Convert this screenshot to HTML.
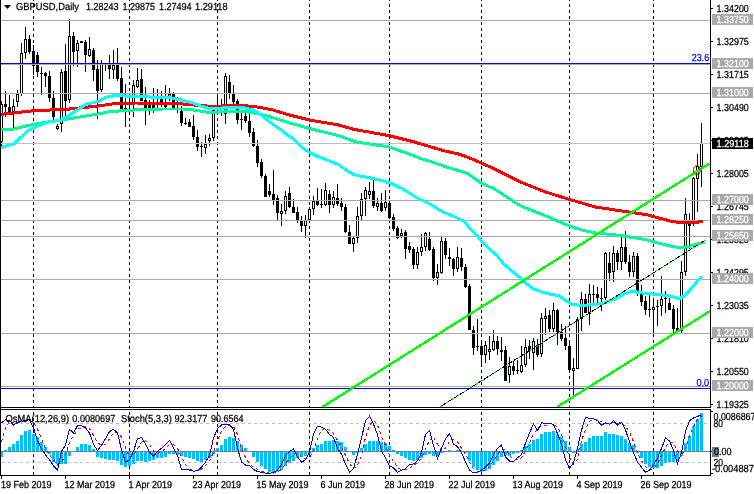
<!DOCTYPE html>
<html><head><meta charset="utf-8"><title>GBPUSD,Daily</title>
<style>
html,body{margin:0;padding:0;background:#fff;}
body{width:754px;height:494px;overflow:hidden;}
svg{display:block;}
text{font-family:"Liberation Sans", sans-serif;font-size:10.2px;text-rendering:geometricPrecision;}
.ce{shape-rendering:crispEdges;}
</style></head><body>
<svg width="754" height="494" viewBox="0 0 754 494">
<rect x="0" y="0" width="754" height="494" fill="#fff"/>

<g id="grid">
<line class="ce" x1="33.5" y1="0" x2="33.5" y2="407" stroke="#000" stroke-width="1" stroke-dasharray="3 3" stroke-dashoffset="2"/>
<line class="ce" x1="33.5" y1="410" x2="33.5" y2="475" stroke="#000" stroke-width="1" stroke-dasharray="3 3" stroke-dashoffset="4"/>
<line class="ce" x1="129.5" y1="0" x2="129.5" y2="407" stroke="#000" stroke-width="1" stroke-dasharray="3 3" stroke-dashoffset="2"/>
<line class="ce" x1="129.5" y1="410" x2="129.5" y2="475" stroke="#000" stroke-width="1" stroke-dasharray="3 3" stroke-dashoffset="4"/>
<line class="ce" x1="217.5" y1="0" x2="217.5" y2="407" stroke="#000" stroke-width="1" stroke-dasharray="3 3" stroke-dashoffset="2"/>
<line class="ce" x1="217.5" y1="410" x2="217.5" y2="475" stroke="#000" stroke-width="1" stroke-dasharray="3 3" stroke-dashoffset="4"/>
<line class="ce" x1="309.5" y1="0" x2="309.5" y2="407" stroke="#000" stroke-width="1" stroke-dasharray="3 3" stroke-dashoffset="2"/>
<line class="ce" x1="309.5" y1="410" x2="309.5" y2="475" stroke="#000" stroke-width="1" stroke-dasharray="3 3" stroke-dashoffset="4"/>
<line class="ce" x1="389.5" y1="0" x2="389.5" y2="407" stroke="#000" stroke-width="1" stroke-dasharray="3 3" stroke-dashoffset="2"/>
<line class="ce" x1="389.5" y1="410" x2="389.5" y2="475" stroke="#000" stroke-width="1" stroke-dasharray="3 3" stroke-dashoffset="4"/>
<line class="ce" x1="481.5" y1="0" x2="481.5" y2="407" stroke="#000" stroke-width="1" stroke-dasharray="3 3" stroke-dashoffset="2"/>
<line class="ce" x1="481.5" y1="410" x2="481.5" y2="475" stroke="#000" stroke-width="1" stroke-dasharray="3 3" stroke-dashoffset="4"/>
<line class="ce" x1="569.5" y1="0" x2="569.5" y2="407" stroke="#000" stroke-width="1" stroke-dasharray="3 3" stroke-dashoffset="2"/>
<line class="ce" x1="569.5" y1="410" x2="569.5" y2="475" stroke="#000" stroke-width="1" stroke-dasharray="3 3" stroke-dashoffset="4"/>
<line class="ce" x1="653.5" y1="0" x2="653.5" y2="407" stroke="#000" stroke-width="1" stroke-dasharray="3 3" stroke-dashoffset="2"/>
<line class="ce" x1="653.5" y1="410" x2="653.5" y2="475" stroke="#000" stroke-width="1" stroke-dasharray="3 3" stroke-dashoffset="4"/>
</g>
<g id="candles" class="ce">
<rect x="1" y="101" width="1" height="45" fill="#000"/>
<rect x="0" y="104" width="3" height="38" fill="#000"/>
<rect x="1" y="105" width="1" height="36" fill="#fff"/>
<rect x="5" y="91" width="1" height="26" fill="#000"/>
<rect x="4" y="104" width="3" height="3" fill="#000"/>
<rect x="9" y="95" width="1" height="18" fill="#000"/>
<rect x="8" y="107" width="3" height="5" fill="#000"/>
<rect x="13" y="99" width="1" height="29" fill="#000"/>
<rect x="12" y="106" width="3" height="6" fill="#000"/>
<rect x="13" y="107" width="1" height="4" fill="#fff"/>
<rect x="17" y="90" width="1" height="17" fill="#000"/>
<rect x="16" y="94" width="3" height="8" fill="#000"/>
<rect x="17" y="95" width="1" height="6" fill="#fff"/>
<rect x="21" y="43" width="1" height="53" fill="#000"/>
<rect x="20" y="53" width="3" height="41" fill="#000"/>
<rect x="21" y="54" width="1" height="39" fill="#fff"/>
<rect x="25" y="27" width="1" height="32" fill="#000"/>
<rect x="24" y="39" width="3" height="14" fill="#000"/>
<rect x="25" y="40" width="1" height="12" fill="#fff"/>
<rect x="29" y="35" width="1" height="19" fill="#000"/>
<rect x="28" y="39" width="3" height="13" fill="#000"/>
<rect x="33" y="45" width="1" height="30" fill="#000"/>
<rect x="32" y="51" width="3" height="15" fill="#000"/>
<rect x="37" y="52" width="1" height="25" fill="#000"/>
<rect x="36" y="55" width="3" height="17" fill="#000"/>
<rect x="41" y="67" width="1" height="28" fill="#000"/>
<rect x="40" y="73" width="3" height="1" fill="#000"/>
<rect x="45" y="72" width="1" height="15" fill="#000"/>
<rect x="44" y="73" width="3" height="3" fill="#000"/>
<rect x="49" y="71" width="1" height="31" fill="#000"/>
<rect x="48" y="76" width="3" height="22" fill="#000"/>
<rect x="53" y="91" width="1" height="29" fill="#000"/>
<rect x="52" y="98" width="3" height="19" fill="#000"/>
<rect x="57" y="124" width="1" height="6" fill="#000"/>
<rect x="56" y="126" width="3" height="3" fill="#000"/>
<rect x="57" y="127" width="1" height="1" fill="#fff"/>
<rect x="61" y="69" width="1" height="63" fill="#000"/>
<rect x="60" y="72" width="3" height="52" fill="#000"/>
<rect x="61" y="73" width="1" height="50" fill="#fff"/>
<rect x="65" y="44" width="1" height="77" fill="#000"/>
<rect x="64" y="71" width="3" height="30" fill="#000"/>
<rect x="69" y="19" width="1" height="84" fill="#000"/>
<rect x="68" y="36" width="3" height="64" fill="#000"/>
<rect x="69" y="37" width="1" height="62" fill="#fff"/>
<rect x="73" y="32" width="1" height="34" fill="#000"/>
<rect x="72" y="36" width="3" height="16" fill="#000"/>
<rect x="77" y="40" width="1" height="27" fill="#000"/>
<rect x="76" y="43" width="3" height="8" fill="#000"/>
<rect x="77" y="44" width="1" height="6" fill="#fff"/>
<rect x="81" y="41" width="1" height="2" fill="#000"/>
<rect x="80" y="41" width="3" height="2" fill="#000"/>
<rect x="85" y="40" width="1" height="32" fill="#000"/>
<rect x="84" y="42" width="3" height="13" fill="#000"/>
<rect x="89" y="37" width="1" height="20" fill="#000"/>
<rect x="88" y="49" width="3" height="7" fill="#000"/>
<rect x="89" y="50" width="1" height="5" fill="#fff"/>
<rect x="93" y="48" width="1" height="33" fill="#000"/>
<rect x="92" y="50" width="3" height="20" fill="#000"/>
<rect x="97" y="60" width="1" height="59" fill="#000"/>
<rect x="96" y="69" width="3" height="22" fill="#000"/>
<rect x="101" y="60" width="1" height="32" fill="#000"/>
<rect x="100" y="64" width="3" height="26" fill="#000"/>
<rect x="101" y="65" width="1" height="24" fill="#fff"/>
<rect x="105" y="65" width="1" height="6" fill="#000"/>
<rect x="109" y="55" width="1" height="24" fill="#000"/>
<rect x="108" y="65" width="3" height="4" fill="#000"/>
<rect x="113" y="50" width="1" height="29" fill="#000"/>
<rect x="112" y="65" width="3" height="5" fill="#000"/>
<rect x="113" y="66" width="1" height="3" fill="#fff"/>
<rect x="117" y="48" width="1" height="33" fill="#000"/>
<rect x="116" y="65" width="3" height="14" fill="#000"/>
<rect x="121" y="67" width="1" height="42" fill="#000"/>
<rect x="120" y="78" width="3" height="31" fill="#000"/>
<rect x="125" y="84" width="1" height="43" fill="#000"/>
<rect x="124" y="108" width="3" height="2" fill="#000"/>
<rect x="129" y="96" width="1" height="16" fill="#000"/>
<rect x="133" y="80" width="1" height="37" fill="#000"/>
<rect x="132" y="85" width="3" height="19" fill="#000"/>
<rect x="133" y="86" width="1" height="17" fill="#fff"/>
<rect x="137" y="68" width="1" height="20" fill="#000"/>
<rect x="136" y="80" width="3" height="7" fill="#000"/>
<rect x="137" y="81" width="1" height="5" fill="#fff"/>
<rect x="141" y="69" width="1" height="32" fill="#000"/>
<rect x="140" y="79" width="3" height="22" fill="#000"/>
<rect x="145" y="87" width="1" height="38" fill="#000"/>
<rect x="144" y="100" width="3" height="8" fill="#000"/>
<rect x="149" y="100" width="1" height="15" fill="#000"/>
<rect x="148" y="104" width="3" height="4" fill="#000"/>
<rect x="153" y="88" width="1" height="25" fill="#000"/>
<rect x="152" y="104" width="3" height="4" fill="#000"/>
<rect x="157" y="89" width="1" height="19" fill="#000"/>
<rect x="156" y="104" width="3" height="1" fill="#000"/>
<rect x="161" y="91" width="1" height="16" fill="#000"/>
<rect x="160" y="97" width="3" height="8" fill="#000"/>
<rect x="165" y="85" width="1" height="23" fill="#000"/>
<rect x="164" y="105" width="3" height="2" fill="#000"/>
<rect x="169" y="88" width="1" height="13" fill="#000"/>
<rect x="168" y="94" width="3" height="5" fill="#000"/>
<rect x="169" y="95" width="1" height="3" fill="#fff"/>
<rect x="173" y="92" width="1" height="17" fill="#000"/>
<rect x="172" y="93" width="3" height="15" fill="#000"/>
<rect x="177" y="97" width="1" height="16" fill="#000"/>
<rect x="176" y="104" width="3" height="1" fill="#000"/>
<rect x="181" y="106" width="1" height="20" fill="#000"/>
<rect x="180" y="111" width="3" height="12" fill="#000"/>
<rect x="185" y="118" width="1" height="7" fill="#000"/>
<rect x="184" y="123" width="3" height="1" fill="#000"/>
<rect x="189" y="119" width="1" height="8" fill="#000"/>
<rect x="188" y="122" width="3" height="5" fill="#000"/>
<rect x="193" y="115" width="1" height="25" fill="#000"/>
<rect x="192" y="126" width="3" height="11" fill="#000"/>
<rect x="197" y="130" width="1" height="21" fill="#000"/>
<rect x="196" y="137" width="3" height="10" fill="#000"/>
<rect x="201" y="142" width="1" height="15" fill="#000"/>
<rect x="200" y="146" width="3" height="1" fill="#000"/>
<rect x="205" y="135" width="1" height="19" fill="#000"/>
<rect x="204" y="144" width="3" height="4" fill="#000"/>
<rect x="205" y="145" width="1" height="2" fill="#fff"/>
<rect x="209" y="134" width="1" height="12" fill="#000"/>
<rect x="208" y="138" width="3" height="3" fill="#000"/>
<rect x="209" y="139" width="1" height="1" fill="#fff"/>
<rect x="213" y="108" width="1" height="33" fill="#000"/>
<rect x="212" y="110" width="3" height="28" fill="#000"/>
<rect x="213" y="111" width="1" height="26" fill="#fff"/>
<rect x="217" y="94" width="1" height="18" fill="#000"/>
<rect x="216" y="106" width="3" height="3" fill="#000"/>
<rect x="221" y="99" width="1" height="17" fill="#000"/>
<rect x="220" y="106" width="3" height="3" fill="#000"/>
<rect x="225" y="73" width="1" height="51" fill="#000"/>
<rect x="224" y="76" width="3" height="38" fill="#000"/>
<rect x="225" y="77" width="1" height="36" fill="#fff"/>
<rect x="229" y="75" width="1" height="24" fill="#000"/>
<rect x="228" y="82" width="3" height="12" fill="#000"/>
<rect x="233" y="85" width="1" height="19" fill="#000"/>
<rect x="232" y="94" width="3" height="8" fill="#000"/>
<rect x="237" y="99" width="1" height="25" fill="#000"/>
<rect x="236" y="101" width="3" height="19" fill="#000"/>
<rect x="241" y="113" width="1" height="17" fill="#000"/>
<rect x="240" y="119" width="3" height="1" fill="#000"/>
<rect x="245" y="113" width="1" height="10" fill="#000"/>
<rect x="244" y="116" width="3" height="5" fill="#000"/>
<rect x="249" y="113" width="1" height="24" fill="#000"/>
<rect x="248" y="121" width="3" height="12" fill="#000"/>
<rect x="253" y="128" width="1" height="19" fill="#000"/>
<rect x="252" y="132" width="3" height="14" fill="#000"/>
<rect x="257" y="140" width="1" height="27" fill="#000"/>
<rect x="256" y="146" width="3" height="17" fill="#000"/>
<rect x="261" y="159" width="1" height="19" fill="#000"/>
<rect x="260" y="162" width="3" height="14" fill="#000"/>
<rect x="265" y="174" width="1" height="23" fill="#000"/>
<rect x="264" y="176" width="3" height="21" fill="#000"/>
<rect x="269" y="184" width="1" height="13" fill="#000"/>
<rect x="268" y="191" width="3" height="4" fill="#000"/>
<rect x="273" y="170" width="1" height="35" fill="#000"/>
<rect x="272" y="194" width="3" height="6" fill="#000"/>
<rect x="277" y="195" width="1" height="25" fill="#000"/>
<rect x="276" y="198" width="3" height="15" fill="#000"/>
<rect x="281" y="204" width="1" height="22" fill="#000"/>
<rect x="280" y="211" width="3" height="3" fill="#000"/>
<rect x="281" y="212" width="1" height="1" fill="#fff"/>
<rect x="285" y="191" width="1" height="23" fill="#000"/>
<rect x="284" y="196" width="3" height="15" fill="#000"/>
<rect x="285" y="197" width="1" height="13" fill="#fff"/>
<rect x="289" y="187" width="1" height="21" fill="#000"/>
<rect x="288" y="193" width="3" height="14" fill="#000"/>
<rect x="293" y="199" width="1" height="14" fill="#000"/>
<rect x="292" y="207" width="3" height="6" fill="#000"/>
<rect x="297" y="207" width="1" height="16" fill="#000"/>
<rect x="296" y="212" width="3" height="8" fill="#000"/>
<rect x="301" y="216" width="1" height="16" fill="#000"/>
<rect x="300" y="221" width="3" height="5" fill="#000"/>
<rect x="305" y="215" width="1" height="23" fill="#000"/>
<rect x="304" y="220" width="3" height="6" fill="#000"/>
<rect x="305" y="221" width="1" height="4" fill="#fff"/>
<rect x="309" y="207" width="1" height="13" fill="#000"/>
<rect x="308" y="209" width="3" height="11" fill="#000"/>
<rect x="309" y="210" width="1" height="9" fill="#fff"/>
<rect x="313" y="196" width="1" height="19" fill="#000"/>
<rect x="312" y="201" width="3" height="8" fill="#000"/>
<rect x="313" y="202" width="1" height="6" fill="#fff"/>
<rect x="317" y="188" width="1" height="18" fill="#000"/>
<rect x="316" y="201" width="3" height="4" fill="#000"/>
<rect x="321" y="189" width="1" height="19" fill="#000"/>
<rect x="320" y="204" width="3" height="1" fill="#000"/>
<rect x="325" y="183" width="1" height="23" fill="#000"/>
<rect x="324" y="190" width="3" height="15" fill="#000"/>
<rect x="325" y="191" width="1" height="13" fill="#fff"/>
<rect x="329" y="190" width="1" height="23" fill="#000"/>
<rect x="328" y="194" width="3" height="11" fill="#000"/>
<rect x="333" y="191" width="1" height="17" fill="#000"/>
<rect x="332" y="197" width="3" height="8" fill="#000"/>
<rect x="333" y="198" width="1" height="6" fill="#fff"/>
<rect x="337" y="184" width="1" height="22" fill="#000"/>
<rect x="336" y="198" width="3" height="6" fill="#000"/>
<rect x="341" y="198" width="1" height="13" fill="#000"/>
<rect x="340" y="203" width="3" height="4" fill="#000"/>
<rect x="345" y="204" width="1" height="29" fill="#000"/>
<rect x="344" y="207" width="3" height="25" fill="#000"/>
<rect x="349" y="225" width="1" height="19" fill="#000"/>
<rect x="348" y="232" width="3" height="12" fill="#000"/>
<rect x="353" y="237" width="1" height="15" fill="#000"/>
<rect x="352" y="238" width="3" height="6" fill="#000"/>
<rect x="353" y="239" width="1" height="4" fill="#fff"/>
<rect x="357" y="207" width="1" height="36" fill="#000"/>
<rect x="356" y="216" width="3" height="22" fill="#000"/>
<rect x="357" y="217" width="1" height="20" fill="#fff"/>
<rect x="361" y="193" width="1" height="27" fill="#000"/>
<rect x="360" y="199" width="3" height="17" fill="#000"/>
<rect x="361" y="200" width="1" height="15" fill="#fff"/>
<rect x="365" y="187" width="1" height="29" fill="#000"/>
<rect x="364" y="190" width="3" height="9" fill="#000"/>
<rect x="365" y="191" width="1" height="7" fill="#fff"/>
<rect x="369" y="182" width="1" height="17" fill="#000"/>
<rect x="368" y="191" width="3" height="4" fill="#000"/>
<rect x="369" y="192" width="1" height="2" fill="#fff"/>
<rect x="373" y="180" width="1" height="28" fill="#000"/>
<rect x="372" y="191" width="3" height="15" fill="#000"/>
<rect x="377" y="198" width="1" height="13" fill="#000"/>
<rect x="376" y="203" width="3" height="4" fill="#000"/>
<rect x="377" y="204" width="1" height="2" fill="#fff"/>
<rect x="381" y="193" width="1" height="19" fill="#000"/>
<rect x="380" y="203" width="3" height="8" fill="#000"/>
<rect x="385" y="190" width="1" height="21" fill="#000"/>
<rect x="384" y="202" width="3" height="6" fill="#000"/>
<rect x="385" y="203" width="1" height="4" fill="#fff"/>
<rect x="389" y="200" width="1" height="19" fill="#000"/>
<rect x="388" y="203" width="3" height="15" fill="#000"/>
<rect x="393" y="214" width="1" height="17" fill="#000"/>
<rect x="392" y="217" width="3" height="12" fill="#000"/>
<rect x="397" y="226" width="1" height="13" fill="#000"/>
<rect x="396" y="228" width="3" height="10" fill="#000"/>
<rect x="401" y="229" width="1" height="9" fill="#000"/>
<rect x="400" y="233" width="3" height="3" fill="#000"/>
<rect x="401" y="234" width="1" height="1" fill="#fff"/>
<rect x="405" y="230" width="1" height="29" fill="#000"/>
<rect x="404" y="232" width="3" height="17" fill="#000"/>
<rect x="409" y="242" width="1" height="11" fill="#000"/>
<rect x="408" y="246" width="3" height="4" fill="#000"/>
<rect x="413" y="247" width="1" height="22" fill="#000"/>
<rect x="412" y="249" width="3" height="16" fill="#000"/>
<rect x="417" y="247" width="1" height="22" fill="#000"/>
<rect x="416" y="252" width="3" height="13" fill="#000"/>
<rect x="417" y="253" width="1" height="11" fill="#fff"/>
<rect x="421" y="234" width="1" height="22" fill="#000"/>
<rect x="420" y="247" width="3" height="5" fill="#000"/>
<rect x="421" y="248" width="1" height="3" fill="#fff"/>
<rect x="425" y="232" width="1" height="19" fill="#000"/>
<rect x="424" y="233" width="3" height="14" fill="#000"/>
<rect x="425" y="234" width="1" height="12" fill="#fff"/>
<rect x="429" y="232" width="1" height="19" fill="#000"/>
<rect x="428" y="239" width="3" height="11" fill="#000"/>
<rect x="433" y="247" width="1" height="34" fill="#000"/>
<rect x="432" y="249" width="3" height="29" fill="#000"/>
<rect x="437" y="264" width="1" height="21" fill="#000"/>
<rect x="436" y="272" width="3" height="6" fill="#000"/>
<rect x="437" y="273" width="1" height="4" fill="#fff"/>
<rect x="441" y="237" width="1" height="37" fill="#000"/>
<rect x="440" y="241" width="3" height="32" fill="#000"/>
<rect x="441" y="242" width="1" height="30" fill="#fff"/>
<rect x="445" y="238" width="1" height="21" fill="#000"/>
<rect x="444" y="241" width="3" height="14" fill="#000"/>
<rect x="449" y="248" width="1" height="18" fill="#000"/>
<rect x="448" y="257" width="3" height="2" fill="#000"/>
<rect x="453" y="258" width="1" height="18" fill="#000"/>
<rect x="452" y="259" width="3" height="10" fill="#000"/>
<rect x="457" y="247" width="1" height="25" fill="#000"/>
<rect x="456" y="257" width="3" height="12" fill="#000"/>
<rect x="457" y="258" width="1" height="10" fill="#fff"/>
<rect x="461" y="248" width="1" height="23" fill="#000"/>
<rect x="460" y="258" width="3" height="9" fill="#000"/>
<rect x="465" y="264" width="1" height="24" fill="#000"/>
<rect x="464" y="267" width="3" height="20" fill="#000"/>
<rect x="469" y="284" width="1" height="46" fill="#000"/>
<rect x="468" y="286" width="3" height="44" fill="#000"/>
<rect x="473" y="326" width="1" height="29" fill="#000"/>
<rect x="472" y="330" width="3" height="18" fill="#000"/>
<rect x="477" y="319" width="1" height="32" fill="#000"/>
<rect x="476" y="346" width="3" height="1" fill="#000"/>
<rect x="481" y="340" width="1" height="26" fill="#000"/>
<rect x="480" y="346" width="3" height="9" fill="#000"/>
<rect x="485" y="341" width="1" height="22" fill="#000"/>
<rect x="484" y="345" width="3" height="10" fill="#000"/>
<rect x="485" y="346" width="1" height="8" fill="#fff"/>
<rect x="489" y="336" width="1" height="24" fill="#000"/>
<rect x="488" y="349" width="3" height="3" fill="#000"/>
<rect x="489" y="350" width="1" height="1" fill="#fff"/>
<rect x="493" y="330" width="1" height="21" fill="#000"/>
<rect x="492" y="341" width="3" height="9" fill="#000"/>
<rect x="493" y="342" width="1" height="7" fill="#fff"/>
<rect x="497" y="336" width="1" height="19" fill="#000"/>
<rect x="496" y="341" width="3" height="8" fill="#000"/>
<rect x="501" y="337" width="1" height="24" fill="#000"/>
<rect x="500" y="350" width="3" height="2" fill="#000"/>
<rect x="505" y="346" width="1" height="35" fill="#000"/>
<rect x="504" y="350" width="3" height="31" fill="#000"/>
<rect x="509" y="357" width="1" height="26" fill="#000"/>
<rect x="508" y="366" width="3" height="9" fill="#000"/>
<rect x="509" y="367" width="1" height="7" fill="#fff"/>
<rect x="513" y="361" width="1" height="14" fill="#000"/>
<rect x="512" y="366" width="3" height="5" fill="#000"/>
<rect x="517" y="360" width="1" height="14" fill="#000"/>
<rect x="516" y="370" width="3" height="1" fill="#000"/>
<rect x="521" y="346" width="1" height="27" fill="#000"/>
<rect x="520" y="365" width="3" height="7" fill="#000"/>
<rect x="521" y="366" width="1" height="5" fill="#fff"/>
<rect x="525" y="339" width="1" height="28" fill="#000"/>
<rect x="524" y="347" width="3" height="18" fill="#000"/>
<rect x="525" y="348" width="1" height="16" fill="#fff"/>
<rect x="529" y="340" width="1" height="19" fill="#000"/>
<rect x="528" y="346" width="3" height="5" fill="#000"/>
<rect x="533" y="338" width="1" height="32" fill="#000"/>
<rect x="532" y="341" width="3" height="12" fill="#000"/>
<rect x="533" y="342" width="1" height="10" fill="#fff"/>
<rect x="537" y="339" width="1" height="18" fill="#000"/>
<rect x="536" y="345" width="3" height="10" fill="#000"/>
<rect x="541" y="313" width="1" height="44" fill="#000"/>
<rect x="540" y="318" width="3" height="36" fill="#000"/>
<rect x="541" y="319" width="1" height="34" fill="#fff"/>
<rect x="545" y="308" width="1" height="27" fill="#000"/>
<rect x="544" y="316" width="3" height="3" fill="#000"/>
<rect x="545" y="317" width="1" height="1" fill="#fff"/>
<rect x="549" y="310" width="1" height="22" fill="#000"/>
<rect x="548" y="315" width="3" height="14" fill="#000"/>
<rect x="553" y="303" width="1" height="29" fill="#000"/>
<rect x="552" y="310" width="3" height="19" fill="#000"/>
<rect x="553" y="311" width="1" height="17" fill="#fff"/>
<rect x="557" y="309" width="1" height="36" fill="#000"/>
<rect x="556" y="310" width="3" height="22" fill="#000"/>
<rect x="561" y="324" width="1" height="17" fill="#000"/>
<rect x="560" y="332" width="3" height="7" fill="#000"/>
<rect x="565" y="326" width="1" height="24" fill="#000"/>
<rect x="564" y="338" width="3" height="8" fill="#000"/>
<rect x="569" y="343" width="1" height="29" fill="#000"/>
<rect x="568" y="346" width="3" height="24" fill="#000"/>
<rect x="573" y="358" width="1" height="38" fill="#000"/>
<rect x="572" y="368" width="3" height="3" fill="#000"/>
<rect x="573" y="369" width="1" height="1" fill="#fff"/>
<rect x="577" y="317" width="1" height="52" fill="#000"/>
<rect x="576" y="319" width="3" height="50" fill="#000"/>
<rect x="577" y="320" width="1" height="48" fill="#fff"/>
<rect x="581" y="292" width="1" height="39" fill="#000"/>
<rect x="580" y="299" width="3" height="20" fill="#000"/>
<rect x="581" y="300" width="1" height="18" fill="#fff"/>
<rect x="585" y="294" width="1" height="19" fill="#000"/>
<rect x="584" y="299" width="3" height="14" fill="#000"/>
<rect x="589" y="284" width="1" height="41" fill="#000"/>
<rect x="588" y="294" width="3" height="20" fill="#000"/>
<rect x="589" y="295" width="1" height="18" fill="#fff"/>
<rect x="593" y="285" width="1" height="18" fill="#000"/>
<rect x="592" y="294" width="3" height="1" fill="#000"/>
<rect x="597" y="287" width="1" height="16" fill="#000"/>
<rect x="596" y="294" width="3" height="4" fill="#000"/>
<rect x="601" y="288" width="1" height="23" fill="#000"/>
<rect x="600" y="298" width="3" height="1" fill="#000"/>
<rect x="605" y="252" width="1" height="48" fill="#000"/>
<rect x="604" y="253" width="3" height="45" fill="#000"/>
<rect x="605" y="254" width="1" height="43" fill="#fff"/>
<rect x="609" y="252" width="1" height="29" fill="#000"/>
<rect x="608" y="263" width="3" height="10" fill="#000"/>
<rect x="613" y="246" width="1" height="36" fill="#000"/>
<rect x="612" y="253" width="3" height="19" fill="#000"/>
<rect x="613" y="254" width="1" height="17" fill="#fff"/>
<rect x="617" y="250" width="1" height="20" fill="#000"/>
<rect x="616" y="253" width="3" height="9" fill="#000"/>
<rect x="621" y="237" width="1" height="33" fill="#000"/>
<rect x="620" y="247" width="3" height="15" fill="#000"/>
<rect x="621" y="248" width="1" height="13" fill="#fff"/>
<rect x="625" y="231" width="1" height="33" fill="#000"/>
<rect x="624" y="247" width="3" height="15" fill="#000"/>
<rect x="629" y="255" width="1" height="22" fill="#000"/>
<rect x="628" y="262" width="3" height="10" fill="#000"/>
<rect x="633" y="252" width="1" height="25" fill="#000"/>
<rect x="632" y="256" width="3" height="16" fill="#000"/>
<rect x="633" y="257" width="1" height="14" fill="#fff"/>
<rect x="637" y="253" width="1" height="43" fill="#000"/>
<rect x="636" y="256" width="3" height="38" fill="#000"/>
<rect x="641" y="285" width="1" height="21" fill="#000"/>
<rect x="640" y="294" width="3" height="8" fill="#000"/>
<rect x="645" y="296" width="1" height="19" fill="#000"/>
<rect x="644" y="301" width="3" height="9" fill="#000"/>
<rect x="649" y="295" width="1" height="22" fill="#000"/>
<rect x="648" y="309" width="3" height="1" fill="#000"/>
<rect x="653" y="300" width="1" height="34" fill="#000"/>
<rect x="652" y="307" width="3" height="3" fill="#000"/>
<rect x="653" y="308" width="1" height="1" fill="#fff"/>
<rect x="657" y="300" width="1" height="26" fill="#000"/>
<rect x="656" y="306" width="3" height="1" fill="#000"/>
<rect x="661" y="276" width="1" height="40" fill="#000"/>
<rect x="660" y="299" width="3" height="7" fill="#000"/>
<rect x="661" y="300" width="1" height="5" fill="#fff"/>
<rect x="665" y="291" width="1" height="22" fill="#000"/>
<rect x="664" y="298" width="3" height="1" fill="#000"/>
<rect x="669" y="297" width="1" height="13" fill="#000"/>
<rect x="668" y="303" width="3" height="7" fill="#000"/>
<rect x="673" y="305" width="1" height="28" fill="#000"/>
<rect x="672" y="309" width="3" height="20" fill="#000"/>
<rect x="677" y="308" width="1" height="25" fill="#000"/>
<rect x="676" y="328" width="3" height="3" fill="#000"/>
<rect x="681" y="261" width="1" height="72" fill="#000"/>
<rect x="680" y="272" width="3" height="59" fill="#000"/>
<rect x="681" y="273" width="1" height="57" fill="#fff"/>
<rect x="685" y="198" width="1" height="78" fill="#000"/>
<rect x="684" y="214" width="3" height="58" fill="#000"/>
<rect x="685" y="215" width="1" height="56" fill="#fff"/>
<rect x="689" y="213" width="1" height="36" fill="#000"/>
<rect x="688" y="224" width="3" height="2" fill="#000"/>
<rect x="693" y="177" width="1" height="49" fill="#000"/>
<rect x="692" y="178" width="3" height="46" fill="#000"/>
<rect x="693" y="179" width="1" height="44" fill="#fff"/>
<rect x="697" y="154" width="1" height="58" fill="#000"/>
<rect x="696" y="166" width="3" height="13" fill="#000"/>
<rect x="697" y="167" width="1" height="11" fill="#fff"/>
<rect x="701" y="123" width="1" height="64" fill="#000"/>
<rect x="700" y="143" width="3" height="24" fill="#000"/>
<rect x="701" y="144" width="1" height="22" fill="#fff"/>
</g>
<g id="levels">
<rect class="ce" x="1" y="20" width="709" height="1" fill="#a9a9a9"/>
<rect class="ce" x="1" y="64" width="709" height="1" fill="#a9a9a9"/>
<rect class="ce" x="1" y="93" width="709" height="1" fill="#a9a9a9"/>
<rect class="ce" x="1" y="200" width="709" height="1" fill="#a9a9a9"/>
<rect class="ce" x="1" y="220" width="709" height="1" fill="#a9a9a9"/>
<rect class="ce" x="1" y="236" width="709" height="1" fill="#a9a9a9"/>
<rect class="ce" x="1" y="279" width="709" height="1" fill="#a9a9a9"/>
<rect class="ce" x="1" y="333" width="709" height="1" fill="#a9a9a9"/>
<rect class="ce" x="1" y="386" width="709" height="1" fill="#a9a9a9"/>
<rect class="ce" x="1" y="143" width="709" height="1" fill="#c0c0c0"/>
<rect class="ce" x="1" y="63" width="709" height="1" fill="#0000ff"/>
<rect class="ce" x="1" y="388" width="709" height="1" fill="#0000ff"/>
</g>
<g id="ma">
<polyline class="ce" points="0.0,129.4 13.4,129.1 33.4,124.4 66.8,119.1 100.0,113.7 109.4,111.7 129.4,110.3 142.8,109.4 162.8,109.0 183.0,109.0 196.0,110.3 208.0,112.4 225.4,111.8 245.5,111.5 258.8,113.8 272.2,117.5 290.0,123.1 309.4,128.5 338.4,135.6 356.0,141.9 388.8,146.9 414.0,155.7 420.0,158.4 433.4,162.4 446.7,167.1 460.1,171.1 468.0,173.7 473.5,177.8 481.5,183.1 493.5,188.5 500.2,192.5 505.6,196.3 520.4,205.8 545.6,215.9 569.5,226.0 583.4,230.5 596.0,233.0 621.2,235.6 646.4,239.8 660.0,243.6 664.0,244.3 672.0,246.4 680.0,247.7 688.0,246.7 696.0,244.3 704.5,242.0" fill="none" stroke="#00fa9a" stroke-width="3" stroke-linejoin="round"/>
<polyline class="ce" points="0.0,114.4 33.4,110.7 66.8,109.3 100.0,105.8 116.0,103.4 136.0,103.0 156.0,103.4 176.0,103.7 190.0,104.3 196.0,105.3 208.0,106.1 221.0,106.1 225.4,105.3 243.0,105.5 256.0,106.8 272.0,109.7 288.0,114.6 309.4,120.0 338.4,125.0 353.5,129.3 388.8,135.6 414.0,141.9 433.4,147.7 446.7,151.4 460.1,154.4 470.8,158.4 481.5,163.1 493.5,168.4 506.9,175.1 520.0,181.8 545.6,192.0 569.5,199.5 596.0,207.1 621.2,210.9 646.4,214.6 660.0,218.4 664.0,219.3 672.0,221.5 680.0,222.6 696.0,222.3 703.0,221.5" fill="none" stroke="#ff0000" stroke-width="3" stroke-linejoin="round"/>
<polyline class="ce" points="0.0,147.7 14.0,143.9 21.0,137.1 28.0,130.7 35.5,127.2 42.5,124.1 49.6,121.8 56.0,121.0 60.0,120.8 73.5,112.4 86.9,103.7 98.0,101.7 106.7,97.0 116.0,95.4 129.4,96.3 142.8,96.7 156.0,97.3 169.5,97.7 183.0,100.3 194.0,103.3 200.0,105.7 208.0,108.0 218.7,108.8 225.4,107.1 242.8,107.5 252.0,109.7 258.8,113.1 266.9,119.8 274.9,125.8 282.9,131.1 288.0,135.6 292.0,137.7 303.0,148.2 313.0,154.5 338.4,164.6 346.7,170.3 353.4,174.3 361.4,176.3 372.0,178.3 385.5,181.7 392.0,183.7 401.5,188.3 409.5,193.0 417.6,198.4 425.6,201.7 432.0,205.1 439.0,209.9 464.4,221.3 468.0,226.3 477.5,236.3 484.0,243.7 497.5,256.3 504.0,264.3 511.0,270.3 517.6,275.8 524.0,280.8 526.0,283.3 533.5,289.0 543.0,292.3 548.0,293.7 558.7,295.7 565.4,300.3 572.0,304.3 581.4,305.4 594.8,304.6 604.0,303.0 614.8,299.0 624.3,293.9 632.4,291.2 635.6,291.2 638.0,292.7 648.6,293.5 653.4,294.3 666.7,295.3 673.4,297.0 678.8,298.8 684.0,296.3 690.8,289.0 696.0,283.0 702.0,276.3" fill="none" stroke="#00ffff" stroke-width="3" stroke-linejoin="round"/>
</g>
<g id="channel">
<line class="ce" x1="322.4" y1="407.0" x2="709.3" y2="163.6" stroke="#00ff00" stroke-width="2.4" />
<line class="ce" x1="557.1" y1="407.0" x2="710.0" y2="311.1" stroke="#00ff00" stroke-width="2.4" />
<line class="ce" x1="439.8" y1="407.0" x2="706.0" y2="239.8" stroke="#000" stroke-width="1" />
<line class="ce" x1="439.8" y1="407.0" x2="710.0" y2="237.3" stroke="#00ff00" stroke-width="1" stroke-dasharray="2.5 4.6"/>
</g>
<ellipse cx="696.8" cy="170.3" rx="3.3" ry="4.6" fill="none" stroke="#ff0000" stroke-width="1"/>
<g id="sub" class="ce">
<line x1="2" y1="423.5" x2="710" y2="423.5" stroke="#c0c0c0" stroke-width="1" stroke-dasharray="3 3"/>
<line x1="2" y1="462.5" x2="710" y2="462.5" stroke="#c0c0c0" stroke-width="1" stroke-dasharray="3 3"/>
<rect x="0" y="452" width="3" height="5" fill="#00bfff"/>
<rect x="4" y="450" width="3" height="1" fill="#00bfff"/>
<rect x="8" y="447" width="3" height="4" fill="#00bfff"/>
<rect x="12" y="444" width="3" height="7" fill="#00bfff"/>
<rect x="16" y="441" width="3" height="10" fill="#00bfff"/>
<rect x="20" y="435" width="3" height="16" fill="#00bfff"/>
<rect x="24" y="431" width="3" height="20" fill="#00bfff"/>
<rect x="28" y="430" width="3" height="21" fill="#00bfff"/>
<rect x="32" y="434" width="3" height="17" fill="#00bfff"/>
<rect x="36" y="437" width="3" height="14" fill="#00bfff"/>
<rect x="40" y="442" width="3" height="9" fill="#00bfff"/>
<rect x="44" y="447" width="3" height="4" fill="#00bfff"/>
<rect x="48" y="452" width="3" height="2" fill="#00bfff"/>
<rect x="52" y="452" width="3" height="10" fill="#00bfff"/>
<rect x="56" y="452" width="3" height="12" fill="#00bfff"/>
<rect x="60" y="452" width="3" height="12" fill="#00bfff"/>
<rect x="64" y="452" width="3" height="12" fill="#00bfff"/>
<rect x="68" y="452" width="3" height="4" fill="#00bfff"/>
<rect x="76" y="447" width="3" height="4" fill="#00bfff"/>
<rect x="80" y="444" width="3" height="7" fill="#00bfff"/>
<rect x="84" y="444" width="3" height="7" fill="#00bfff"/>
<rect x="88" y="445" width="3" height="6" fill="#00bfff"/>
<rect x="92" y="449" width="3" height="2" fill="#00bfff"/>
<rect x="96" y="452" width="3" height="5" fill="#00bfff"/>
<rect x="100" y="452" width="3" height="6" fill="#00bfff"/>
<rect x="104" y="452" width="3" height="7" fill="#00bfff"/>
<rect x="108" y="452" width="3" height="8" fill="#00bfff"/>
<rect x="112" y="452" width="3" height="8" fill="#00bfff"/>
<rect x="116" y="452" width="3" height="9" fill="#00bfff"/>
<rect x="120" y="452" width="3" height="13" fill="#00bfff"/>
<rect x="124" y="452" width="3" height="15" fill="#00bfff"/>
<rect x="128" y="452" width="3" height="14" fill="#00bfff"/>
<rect x="132" y="452" width="3" height="12" fill="#00bfff"/>
<rect x="136" y="452" width="3" height="9" fill="#00bfff"/>
<rect x="140" y="452" width="3" height="9" fill="#00bfff"/>
<rect x="144" y="452" width="3" height="10" fill="#00bfff"/>
<rect x="148" y="452" width="3" height="9" fill="#00bfff"/>
<rect x="152" y="452" width="3" height="8" fill="#00bfff"/>
<rect x="156" y="452" width="3" height="6" fill="#00bfff"/>
<rect x="160" y="452" width="3" height="6" fill="#00bfff"/>
<rect x="164" y="452" width="3" height="5" fill="#00bfff"/>
<rect x="168" y="452" width="3" height="2" fill="#00bfff"/>
<rect x="172" y="452" width="3" height="2" fill="#00bfff"/>
<rect x="176" y="452" width="3" height="3" fill="#00bfff"/>
<rect x="180" y="452" width="3" height="4" fill="#00bfff"/>
<rect x="184" y="452" width="3" height="5" fill="#00bfff"/>
<rect x="188" y="452" width="3" height="6" fill="#00bfff"/>
<rect x="192" y="452" width="3" height="7" fill="#00bfff"/>
<rect x="196" y="452" width="3" height="9" fill="#00bfff"/>
<rect x="200" y="452" width="3" height="10" fill="#00bfff"/>
<rect x="204" y="452" width="3" height="8" fill="#00bfff"/>
<rect x="208" y="452" width="3" height="6" fill="#00bfff"/>
<rect x="212" y="452" width="3" height="2" fill="#00bfff"/>
<rect x="216" y="448" width="3" height="3" fill="#00bfff"/>
<rect x="220" y="445" width="3" height="6" fill="#00bfff"/>
<rect x="224" y="439" width="3" height="12" fill="#00bfff"/>
<rect x="228" y="437" width="3" height="14" fill="#00bfff"/>
<rect x="232" y="438" width="3" height="13" fill="#00bfff"/>
<rect x="236" y="441" width="3" height="10" fill="#00bfff"/>
<rect x="240" y="445" width="3" height="6" fill="#00bfff"/>
<rect x="244" y="448" width="3" height="3" fill="#00bfff"/>
<rect x="252" y="452" width="3" height="5" fill="#00bfff"/>
<rect x="256" y="452" width="3" height="10" fill="#00bfff"/>
<rect x="260" y="452" width="3" height="14" fill="#00bfff"/>
<rect x="264" y="452" width="3" height="17" fill="#00bfff"/>
<rect x="268" y="452" width="3" height="20" fill="#00bfff"/>
<rect x="272" y="452" width="3" height="20" fill="#00bfff"/>
<rect x="276" y="452" width="3" height="20" fill="#00bfff"/>
<rect x="280" y="452" width="3" height="18" fill="#00bfff"/>
<rect x="284" y="452" width="3" height="14" fill="#00bfff"/>
<rect x="288" y="452" width="3" height="11" fill="#00bfff"/>
<rect x="292" y="452" width="3" height="9" fill="#00bfff"/>
<rect x="296" y="452" width="3" height="6" fill="#00bfff"/>
<rect x="300" y="452" width="3" height="5" fill="#00bfff"/>
<rect x="304" y="452" width="3" height="4" fill="#00bfff"/>
<rect x="308" y="452" width="3" height="2" fill="#00bfff"/>
<rect x="312" y="448" width="3" height="3" fill="#00bfff"/>
<rect x="316" y="445" width="3" height="6" fill="#00bfff"/>
<rect x="320" y="444" width="3" height="7" fill="#00bfff"/>
<rect x="324" y="441" width="3" height="10" fill="#00bfff"/>
<rect x="328" y="441" width="3" height="10" fill="#00bfff"/>
<rect x="332" y="440" width="3" height="11" fill="#00bfff"/>
<rect x="336" y="441" width="3" height="10" fill="#00bfff"/>
<rect x="340" y="442" width="3" height="9" fill="#00bfff"/>
<rect x="344" y="447" width="3" height="4" fill="#00bfff"/>
<rect x="352" y="452" width="3" height="3" fill="#00bfff"/>
<rect x="356" y="452" width="3" height="1" fill="#00bfff"/>
<rect x="360" y="448" width="3" height="3" fill="#00bfff"/>
<rect x="364" y="444" width="3" height="7" fill="#00bfff"/>
<rect x="368" y="441" width="3" height="10" fill="#00bfff"/>
<rect x="372" y="441" width="3" height="10" fill="#00bfff"/>
<rect x="376" y="441" width="3" height="10" fill="#00bfff"/>
<rect x="380" y="442" width="3" height="9" fill="#00bfff"/>
<rect x="384" y="443" width="3" height="8" fill="#00bfff"/>
<rect x="388" y="446" width="3" height="5" fill="#00bfff"/>
<rect x="392" y="450" width="3" height="1" fill="#00bfff"/>
<rect x="396" y="452" width="3" height="2" fill="#00bfff"/>
<rect x="400" y="452" width="3" height="4" fill="#00bfff"/>
<rect x="404" y="452" width="3" height="6" fill="#00bfff"/>
<rect x="408" y="452" width="3" height="8" fill="#00bfff"/>
<rect x="412" y="452" width="3" height="9" fill="#00bfff"/>
<rect x="416" y="452" width="3" height="8" fill="#00bfff"/>
<rect x="420" y="452" width="3" height="6" fill="#00bfff"/>
<rect x="424" y="452" width="3" height="3" fill="#00bfff"/>
<rect x="428" y="452" width="3" height="2" fill="#00bfff"/>
<rect x="432" y="452" width="3" height="4" fill="#00bfff"/>
<rect x="436" y="452" width="3" height="4" fill="#00bfff"/>
<rect x="440" y="452" width="3" height="1" fill="#00bfff"/>
<rect x="448" y="450" width="3" height="1" fill="#00bfff"/>
<rect x="456" y="450" width="3" height="1" fill="#00bfff"/>
<rect x="464" y="452" width="3" height="1" fill="#00bfff"/>
<rect x="468" y="452" width="3" height="9" fill="#00bfff"/>
<rect x="472" y="452" width="3" height="15" fill="#00bfff"/>
<rect x="476" y="452" width="3" height="18" fill="#00bfff"/>
<rect x="480" y="452" width="3" height="20" fill="#00bfff"/>
<rect x="484" y="452" width="3" height="19" fill="#00bfff"/>
<rect x="488" y="452" width="3" height="17" fill="#00bfff"/>
<rect x="492" y="452" width="3" height="13" fill="#00bfff"/>
<rect x="496" y="452" width="3" height="9" fill="#00bfff"/>
<rect x="500" y="452" width="3" height="5" fill="#00bfff"/>
<rect x="504" y="452" width="3" height="3" fill="#00bfff"/>
<rect x="508" y="452" width="3" height="4" fill="#00bfff"/>
<rect x="512" y="452" width="3" height="2" fill="#00bfff"/>
<rect x="516" y="452" width="3" height="1" fill="#00bfff"/>
<rect x="520" y="450" width="3" height="1" fill="#00bfff"/>
<rect x="524" y="446" width="3" height="5" fill="#00bfff"/>
<rect x="528" y="444" width="3" height="7" fill="#00bfff"/>
<rect x="532" y="440" width="3" height="11" fill="#00bfff"/>
<rect x="536" y="439" width="3" height="12" fill="#00bfff"/>
<rect x="540" y="434" width="3" height="17" fill="#00bfff"/>
<rect x="544" y="432" width="3" height="19" fill="#00bfff"/>
<rect x="548" y="432" width="3" height="19" fill="#00bfff"/>
<rect x="552" y="431" width="3" height="20" fill="#00bfff"/>
<rect x="556" y="434" width="3" height="17" fill="#00bfff"/>
<rect x="560" y="437" width="3" height="14" fill="#00bfff"/>
<rect x="564" y="441" width="3" height="10" fill="#00bfff"/>
<rect x="568" y="447" width="3" height="4" fill="#00bfff"/>
<rect x="572" y="452" width="3" height="1" fill="#00bfff"/>
<rect x="576" y="449" width="3" height="2" fill="#00bfff"/>
<rect x="580" y="444" width="3" height="7" fill="#00bfff"/>
<rect x="584" y="442" width="3" height="9" fill="#00bfff"/>
<rect x="588" y="438" width="3" height="13" fill="#00bfff"/>
<rect x="592" y="436" width="3" height="15" fill="#00bfff"/>
<rect x="596" y="436" width="3" height="15" fill="#00bfff"/>
<rect x="600" y="436" width="3" height="15" fill="#00bfff"/>
<rect x="604" y="432" width="3" height="19" fill="#00bfff"/>
<rect x="608" y="434" width="3" height="17" fill="#00bfff"/>
<rect x="612" y="434" width="3" height="17" fill="#00bfff"/>
<rect x="616" y="435" width="3" height="16" fill="#00bfff"/>
<rect x="620" y="436" width="3" height="15" fill="#00bfff"/>
<rect x="624" y="439" width="3" height="12" fill="#00bfff"/>
<rect x="628" y="443" width="3" height="8" fill="#00bfff"/>
<rect x="632" y="445" width="3" height="6" fill="#00bfff"/>
<rect x="636" y="452" width="3" height="1" fill="#00bfff"/>
<rect x="640" y="452" width="3" height="6" fill="#00bfff"/>
<rect x="644" y="452" width="3" height="12" fill="#00bfff"/>
<rect x="648" y="452" width="3" height="15" fill="#00bfff"/>
<rect x="652" y="452" width="3" height="16" fill="#00bfff"/>
<rect x="656" y="452" width="3" height="16" fill="#00bfff"/>
<rect x="660" y="452" width="3" height="14" fill="#00bfff"/>
<rect x="664" y="452" width="3" height="11" fill="#00bfff"/>
<rect x="668" y="452" width="3" height="10" fill="#00bfff"/>
<rect x="672" y="452" width="3" height="10" fill="#00bfff"/>
<rect x="676" y="452" width="3" height="9" fill="#00bfff"/>
<rect x="680" y="452" width="3" height="4" fill="#00bfff"/>
<rect x="684" y="443" width="3" height="8" fill="#00bfff"/>
<rect x="688" y="436" width="3" height="15" fill="#00bfff"/>
<rect x="692" y="426" width="3" height="25" fill="#00bfff"/>
<rect x="696" y="419" width="3" height="32" fill="#00bfff"/>
<rect x="700" y="413" width="3" height="38" fill="#00bfff"/>
<rect class="ce" x="1" y="451" width="709" height="1" fill="#708090"/>
</g>
<g id="stoch">
<polyline class="ce" points="1.5,441.7 5.5,427.9 9.5,421.3 13.5,422.8 17.5,423.2 21.5,422.3 25.5,421.3 29.5,420.6 33.5,422.8 37.5,429.3 41.5,438.8 45.5,448.3 49.5,454.8 53.5,459.9 57.5,465.0 61.5,462.1 65.5,455.6 69.5,442.4 73.5,435.9 77.5,429.3 81.5,427.9 85.5,426.4 89.5,428.6 93.5,435.2 97.5,442.5 101.5,445.4 105.5,444.6 109.5,438.8 113.5,433.0 117.5,432.2 121.5,437.3 125.5,447.5 129.5,457.0 133.5,455.6 137.5,449.0 141.5,442.4 145.5,440.3 149.5,444.6 153.5,450.5 157.5,453.4 161.5,451.9 165.5,448.3 169.5,444.6 173.5,444.6 177.5,448.3 181.5,457.0 185.5,464.3 189.5,469.4 193.5,470.1 197.5,470.1 201.5,469.0 205.5,465.8 209.5,460.7 213.5,452.6 217.5,440.3 221.5,430.8 225.5,426.4 229.5,425.0 233.5,426.4 237.5,434.4 241.5,448.3 245.5,457.7 249.5,463.6 253.5,467.2 257.5,469.4 261.5,471.3 265.5,472.3 269.5,473.1 273.5,473.1 277.5,471.9 281.5,469.4 285.5,463.6 289.5,458.5 293.5,454.8 297.5,452.9 301.5,456.3 305.5,458.8 309.5,457.7 313.5,450.5 317.5,438.8 321.5,430.1 325.5,427.9 329.5,430.1 333.5,433.7 337.5,440.3 341.5,446.8 345.5,455.6 349.5,463.6 353.5,468.7 357.5,465.0 361.5,455.6 365.5,437.3 369.5,425.0 373.5,420.6 377.5,425.0 381.5,436.6 385.5,445.5 389.5,455.6 393.5,461.4 397.5,467.2 401.5,470.1 405.5,469.8 409.5,468.4 413.5,465.0 417.5,462.9 421.5,458.5 425.5,449.0 429.5,440.3 433.5,436.6 437.5,444.6 441.5,450.5 445.5,448.3 449.5,441.0 453.5,439.2 457.5,441.7 461.5,448.3 465.5,454.1 469.5,462.1 473.5,468.7 477.5,471.3 481.5,471.5 485.5,470.1 489.5,466.5 493.5,461.4 497.5,454.8 501.5,449.0 505.5,449.7 509.5,454.8 513.5,459.9 517.5,459.9 521.5,457.7 525.5,451.2 529.5,443.2 533.5,433.7 537.5,429.3 541.5,425.7 545.5,425.7 549.5,423.2 553.5,423.8 557.5,427.1 561.5,434.4 565.5,446.1 569.5,457.7 573.5,464.3 577.5,459.2 581.5,441.0 585.5,429.3 589.5,421.3 593.5,418.8 597.5,419.8 601.5,421.7 605.5,423.2 609.5,423.8 613.5,422.3 617.5,423.2 621.5,422.8 625.5,426.1 629.5,432.2 633.5,441.7 637.5,452.6 641.5,460.7 645.5,466.5 649.5,469.4 653.5,468.7 657.5,463.6 661.5,455.6 665.5,447.5 669.5,441.7 673.5,443.2 677.5,451.2 681.5,454.1 685.5,449.7 689.5,435.2 693.5,426.4 697.5,419.8 701.5,416.2" fill="none" stroke="#ff0000" stroke-width="1" stroke-dasharray="3 3"/>
<polyline class="ce" points="1.5,422.8 5.5,419.8 9.5,420.6 13.5,425.0 17.5,422.3 21.5,421.3 25.5,420.3 29.5,419.8 33.5,427.9 37.5,440.3 41.5,449.0 45.5,454.8 49.5,459.9 53.5,465.8 57.5,470.1 61.5,451.2 65.5,445.4 69.5,429.3 73.5,433.0 77.5,425.7 81.5,425.7 85.5,427.9 89.5,433.0 93.5,444.6 97.5,450.5 101.5,445.4 105.5,438.8 109.5,431.5 113.5,429.3 117.5,433.0 121.5,449.7 125.5,462.1 129.5,459.9 133.5,451.2 137.5,438.8 141.5,437.3 145.5,443.9 149.5,451.9 153.5,456.3 157.5,451.2 161.5,448.3 165.5,444.6 169.5,440.3 173.5,448.3 177.5,455.6 181.5,469.4 185.5,469.4 189.5,470.1 193.5,471.1 197.5,470.9 201.5,467.2 205.5,462.1 209.5,455.6 213.5,438.1 217.5,428.6 221.5,425.0 225.5,424.2 229.5,425.0 233.5,429.3 237.5,448.3 241.5,462.1 245.5,465.0 249.5,465.8 253.5,469.4 257.5,471.6 261.5,472.3 265.5,473.1 269.5,473.3 273.5,472.3 277.5,470.1 281.5,464.3 285.5,455.6 289.5,451.5 293.5,449.0 297.5,457.0 301.5,462.1 305.5,459.9 309.5,452.6 313.5,433.7 317.5,426.4 321.5,427.1 325.5,429.3 329.5,434.4 333.5,437.3 337.5,448.3 341.5,454.1 345.5,464.3 349.5,472.3 353.5,468.7 357.5,454.1 361.5,438.1 365.5,420.6 369.5,416.2 373.5,424.2 377.5,434.4 381.5,451.2 385.5,457.7 389.5,465.8 393.5,468.0 397.5,472.3 401.5,470.1 405.5,468.7 409.5,464.3 413.5,464.0 417.5,460.7 421.5,452.6 425.5,434.4 429.5,430.5 433.5,445.4 437.5,458.5 441.5,448.3 445.5,438.8 449.5,433.4 453.5,443.9 457.5,446.8 461.5,452.6 465.5,462.1 469.5,470.1 473.5,472.8 477.5,472.3 481.5,470.1 485.5,467.2 489.5,462.9 493.5,454.8 497.5,448.3 501.5,445.1 505.5,457.0 509.5,461.1 513.5,461.7 517.5,457.7 521.5,454.8 525.5,443.2 529.5,433.0 533.5,423.8 537.5,430.5 541.5,422.8 545.5,423.5 549.5,423.5 553.5,424.2 557.5,433.7 561.5,443.9 565.5,460.2 569.5,468.4 573.5,462.9 577.5,448.3 581.5,430.1 585.5,417.4 589.5,418.4 593.5,418.8 597.5,420.6 601.5,425.2 605.5,422.8 609.5,424.2 613.5,420.6 617.5,425.2 621.5,422.3 625.5,430.1 629.5,441.7 633.5,452.6 637.5,462.1 641.5,467.2 645.5,472.3 649.5,470.1 653.5,465.0 657.5,458.0 661.5,448.3 665.5,438.1 669.5,441.0 673.5,450.5 677.5,463.6 681.5,452.6 685.5,431.5 689.5,420.6 693.5,418.0 697.5,416.5 701.5,414.7" fill="none" stroke="#0000ff" stroke-width="1"/>
</g>
<g id="frame" class="ce">
<rect class="ce" x="0" y="0" width="1" height="476" fill="#000"/>
<rect class="ce" x="0" y="407" width="711" height="1" fill="#000"/>
<rect class="ce" x="0" y="409" width="711" height="1" fill="#000"/>
<rect class="ce" x="0" y="475" width="711" height="1" fill="#000"/>
<rect class="ce" x="710" y="0" width="1" height="408" fill="#000"/>
<rect class="ce" x="710" y="409" width="1" height="67" fill="#000"/>
<rect class="ce" x="711" y="8" width="2" height="1" fill="#000"/>
<rect class="ce" x="711" y="41" width="2" height="1" fill="#000"/>
<rect class="ce" x="711" y="74" width="2" height="1" fill="#000"/>
<rect class="ce" x="711" y="107" width="2" height="1" fill="#000"/>
<rect class="ce" x="711" y="140" width="2" height="1" fill="#000"/>
<rect class="ce" x="711" y="173" width="2" height="1" fill="#000"/>
<rect class="ce" x="711" y="206" width="2" height="1" fill="#000"/>
<rect class="ce" x="711" y="239" width="2" height="1" fill="#000"/>
<rect class="ce" x="711" y="272" width="2" height="1" fill="#000"/>
<rect class="ce" x="711" y="305" width="2" height="1" fill="#000"/>
<rect class="ce" x="711" y="338" width="2" height="1" fill="#000"/>
<rect class="ce" x="711" y="371" width="2" height="1" fill="#000"/>
<rect class="ce" x="711" y="404" width="2" height="1" fill="#000"/>
<rect class="ce" x="711" y="411" width="2" height="1" fill="#000"/>
<rect class="ce" x="711" y="451" width="2" height="1" fill="#000"/>
<rect class="ce" x="711" y="473" width="2" height="1" fill="#000"/>
<rect class="ce" x="1" y="476" width="1" height="3" fill="#000"/>
<rect class="ce" x="65" y="476" width="1" height="3" fill="#000"/>
<rect class="ce" x="129" y="476" width="1" height="3" fill="#000"/>
<rect class="ce" x="193" y="476" width="1" height="3" fill="#000"/>
<rect class="ce" x="257" y="476" width="1" height="3" fill="#000"/>
<rect class="ce" x="321" y="476" width="1" height="3" fill="#000"/>
<rect class="ce" x="385" y="476" width="1" height="3" fill="#000"/>
<rect class="ce" x="449" y="476" width="1" height="3" fill="#000"/>
<rect class="ce" x="513" y="476" width="1" height="3" fill="#000"/>
<rect class="ce" x="577" y="476" width="1" height="3" fill="#000"/>
<rect class="ce" x="641" y="476" width="1" height="3" fill="#000"/>
</g>
<g id="labels">
<text x="716.6" y="12" fill="#000" stroke="#000" stroke-width="0.25" textLength="32.2" lengthAdjust="spacingAndGlyphs">1.34200</text>
<text x="716.6" y="45" fill="#000" stroke="#000" stroke-width="0.25" textLength="32.2" lengthAdjust="spacingAndGlyphs">1.32975</text>
<text x="716.6" y="78" fill="#000" stroke="#000" stroke-width="0.25" textLength="32.2" lengthAdjust="spacingAndGlyphs">1.31715</text>
<text x="716.6" y="111" fill="#000" stroke="#000" stroke-width="0.25" textLength="32.2" lengthAdjust="spacingAndGlyphs">1.30490</text>
<text x="716.6" y="144" fill="#000" stroke="#000" stroke-width="0.25" textLength="32.2" lengthAdjust="spacingAndGlyphs">1.29265</text>
<text x="716.6" y="177" fill="#000" stroke="#000" stroke-width="0.25" textLength="32.2" lengthAdjust="spacingAndGlyphs">1.28005</text>
<text x="716.6" y="210" fill="#000" stroke="#000" stroke-width="0.25" textLength="32.2" lengthAdjust="spacingAndGlyphs">1.26745</text>
<text x="716.6" y="243" fill="#000" stroke="#000" stroke-width="0.25" textLength="32.2" lengthAdjust="spacingAndGlyphs">1.25520</text>
<text x="716.6" y="276" fill="#000" stroke="#000" stroke-width="0.25" textLength="32.2" lengthAdjust="spacingAndGlyphs">1.24295</text>
<text x="716.6" y="309" fill="#000" stroke="#000" stroke-width="0.25" textLength="32.2" lengthAdjust="spacingAndGlyphs">1.23035</text>
<text x="716.6" y="342" fill="#000" stroke="#000" stroke-width="0.25" textLength="32.2" lengthAdjust="spacingAndGlyphs">1.21810</text>
<text x="716.6" y="375" fill="#000" stroke="#000" stroke-width="0.25" textLength="32.2" lengthAdjust="spacingAndGlyphs">1.20550</text>
<text x="716.6" y="408" fill="#000" stroke="#000" stroke-width="0.25" textLength="32.2" lengthAdjust="spacingAndGlyphs">1.19325</text>
<text x="713.5" y="420" fill="#000" stroke="#000" stroke-width="0.25" textLength="42" lengthAdjust="spacingAndGlyphs">0.0086867</text>
<text x="713.5" y="427" fill="#000" stroke="#000" stroke-width="0.25" textLength="9.5" lengthAdjust="spacingAndGlyphs">80</text>
<text x="713.5" y="466" fill="#000" stroke="#000" stroke-width="0.25" textLength="9.5" lengthAdjust="spacingAndGlyphs">20</text>
<text x="712" y="472" fill="#000" stroke="#000" stroke-width="0.25" textLength="42" lengthAdjust="spacingAndGlyphs">-0.004887</text>
<rect class="ce" x="712" y="447" width="7" height="10" fill="#708090"/>
<text x="714" y="455" fill="#000" stroke="#000" stroke-width="0.25" textLength="17.5" lengthAdjust="spacingAndGlyphs">0.00</text>
<rect class="ce" x="712" y="14" width="41" height="11" fill="#a9a9a9"/>
<text x="716.6" y="23" fill="#fff" stroke="#fff" stroke-width="0.25" textLength="32.2" lengthAdjust="spacingAndGlyphs">1.33750</text>
<rect class="ce" x="712" y="58" width="41" height="11" fill="#a9a9a9"/>
<text x="716.6" y="67" fill="#fff" stroke="#fff" stroke-width="0.25" textLength="32.2" lengthAdjust="spacingAndGlyphs">1.32100</text>
<rect class="ce" x="712" y="87" width="41" height="11" fill="#a9a9a9"/>
<text x="716.6" y="96" fill="#fff" stroke="#fff" stroke-width="0.25" textLength="32.2" lengthAdjust="spacingAndGlyphs">1.31000</text>
<rect class="ce" x="712" y="194" width="41" height="11" fill="#a9a9a9"/>
<text x="716.6" y="203" fill="#fff" stroke="#fff" stroke-width="0.25" textLength="32.2" lengthAdjust="spacingAndGlyphs">1.27000</text>
<rect class="ce" x="712" y="214" width="41" height="11" fill="#a9a9a9"/>
<text x="716.6" y="223" fill="#fff" stroke="#fff" stroke-width="0.25" textLength="32.2" lengthAdjust="spacingAndGlyphs">1.26250</text>
<rect class="ce" x="712" y="230" width="41" height="11" fill="#a9a9a9"/>
<text x="716.6" y="239" fill="#fff" stroke="#fff" stroke-width="0.25" textLength="32.2" lengthAdjust="spacingAndGlyphs">1.25650</text>
<rect class="ce" x="712" y="273" width="41" height="11" fill="#a9a9a9"/>
<text x="716.6" y="282" fill="#fff" stroke="#fff" stroke-width="0.25" textLength="32.2" lengthAdjust="spacingAndGlyphs">1.24000</text>
<rect class="ce" x="712" y="327" width="41" height="11" fill="#a9a9a9"/>
<text x="716.6" y="336" fill="#fff" stroke="#fff" stroke-width="0.25" textLength="32.2" lengthAdjust="spacingAndGlyphs">1.22000</text>
<rect class="ce" x="712" y="380" width="41" height="11" fill="#a9a9a9"/>
<text x="716.6" y="389" fill="#fff" stroke="#fff" stroke-width="0.25" textLength="32.2" lengthAdjust="spacingAndGlyphs">1.20000</text>
<rect class="ce" x="712" y="138" width="41" height="11" fill="#000"/>
<text x="716.6" y="147" fill="#fff" stroke="#fff" stroke-width="0.25" textLength="32.2" lengthAdjust="spacingAndGlyphs">1.29118</text>
<text x="691.7" y="61" fill="#0000ff" stroke="#0000ff" stroke-width="0.25" textLength="17.5" lengthAdjust="spacingAndGlyphs">23.6</text>
<text x="696.4000000000001" y="386" fill="#0000ff" stroke="#0000ff" stroke-width="0.25" textLength="12.8" lengthAdjust="spacingAndGlyphs">0.0</text>
<path d="M4 5h7l-3.5 4z" fill="#000"/>
<text x="16" y="10" fill="#000" stroke="#000" stroke-width="0.25" textLength="63" lengthAdjust="spacingAndGlyphs">GBPUSD,Daily</text>
<text x="86" y="10" fill="#000" stroke="#000" stroke-width="0.25" textLength="32.6" lengthAdjust="spacingAndGlyphs">1.28243</text>
<text x="122.4" y="10" fill="#000" stroke="#000" stroke-width="0.25" textLength="32.6" lengthAdjust="spacingAndGlyphs">1.29875</text>
<text x="159" y="10" fill="#000" stroke="#000" stroke-width="0.25" textLength="32.6" lengthAdjust="spacingAndGlyphs">1.27494</text>
<text x="195" y="10" fill="#000" stroke="#000" stroke-width="0.25" textLength="32.6" lengthAdjust="spacingAndGlyphs">1.29118</text>
<text x="5.6" y="422" fill="#000" stroke="#000" stroke-width="0.25" textLength="63.4" lengthAdjust="spacingAndGlyphs">OsMA(12,26,9)</text>
<text x="72.3" y="422" fill="#000" stroke="#000" stroke-width="0.25" textLength="43" lengthAdjust="spacingAndGlyphs">0.0080697</text>
<text x="121" y="422" fill="#000" stroke="#000" stroke-width="0.25" textLength="50.8" lengthAdjust="spacingAndGlyphs">Stoch(5,3,3)</text>
<text x="174.4" y="422" fill="#000" stroke="#000" stroke-width="0.25" textLength="33" lengthAdjust="spacingAndGlyphs">92.3177</text>
<text x="210.9" y="422" fill="#000" stroke="#000" stroke-width="0.25" textLength="32.6" lengthAdjust="spacingAndGlyphs">90.6564</text>
<text x="1.0" y="488" fill="#000" stroke="#000" stroke-width="0.25" textLength="50.5" lengthAdjust="spacingAndGlyphs">19 Feb 2019</text>
<text x="64.5" y="488" fill="#000" stroke="#000" stroke-width="0.25" textLength="50.5" lengthAdjust="spacingAndGlyphs">12 Mar 2019</text>
<text x="128.5" y="488" fill="#000" stroke="#000" stroke-width="0.25" textLength="43.5" lengthAdjust="spacingAndGlyphs">1 Apr 2019</text>
<text x="192.5" y="488" fill="#000" stroke="#000" stroke-width="0.25" textLength="48.5" lengthAdjust="spacingAndGlyphs">23 Apr 2019</text>
<text x="256.5" y="488" fill="#000" stroke="#000" stroke-width="0.25" textLength="52.0" lengthAdjust="spacingAndGlyphs">15 May 2019</text>
<text x="320.5" y="488" fill="#000" stroke="#000" stroke-width="0.25" textLength="44.5" lengthAdjust="spacingAndGlyphs">6 Jun 2019</text>
<text x="384.5" y="488" fill="#000" stroke="#000" stroke-width="0.25" textLength="49.5" lengthAdjust="spacingAndGlyphs">28 Jun 2019</text>
<text x="448.5" y="488" fill="#000" stroke="#000" stroke-width="0.25" textLength="46.5" lengthAdjust="spacingAndGlyphs">22 Jul 2019</text>
<text x="512.5" y="488" fill="#000" stroke="#000" stroke-width="0.25" textLength="50.5" lengthAdjust="spacingAndGlyphs">13 Aug 2019</text>
<text x="576.5" y="488" fill="#000" stroke="#000" stroke-width="0.25" textLength="46.0" lengthAdjust="spacingAndGlyphs">4 Sep 2019</text>
<text x="640.5" y="488" fill="#000" stroke="#000" stroke-width="0.25" textLength="51.0" lengthAdjust="spacingAndGlyphs">26 Sep 2019</text>
</g>
</svg></body></html>
